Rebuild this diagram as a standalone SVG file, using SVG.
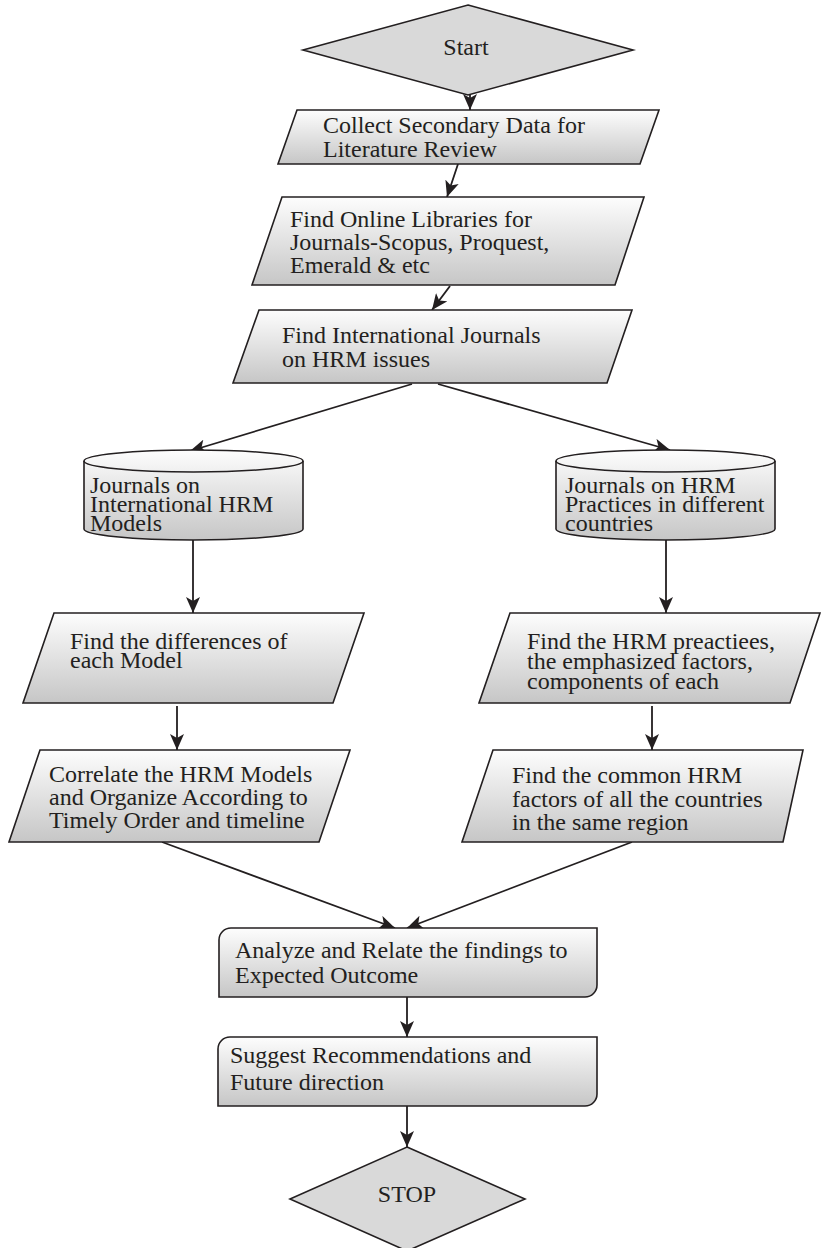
<svg xmlns="http://www.w3.org/2000/svg" width="821" height="1248" viewBox="0 0 821 1248">
<style>
.s{stroke:#231f20;stroke-width:1.6;fill:url(#g)}
.d{stroke:#231f20;stroke-width:1.6;fill:#d9d9d9}
.t{font-family:"Liberation Serif","Times New Roman",serif;font-size:24px;fill:#231f20}
.c{stroke:#231f20;stroke-width:1.8;fill:none;marker-end:url(#ah)}
</style>
<defs>
<linearGradient id="g" x1="0" y1="0" x2="0" y2="1">
<stop offset="0" stop-color="#fdfdfd"/>
<stop offset="1" stop-color="#c6c6c6"/>
</linearGradient>
<marker id="ah" markerUnits="userSpaceOnUse" markerWidth="18" markerHeight="14" refX="16" refY="7" orient="auto">
<path d="M0,0 L16,7 L0,14 L4,7 Z" fill="#231f20"/>
</marker>
</defs>
<g id="connectors">
<line class="c" x1="470" y1="95" x2="470" y2="110"/>
<line class="c" x1="458" y1="164" x2="447" y2="197"/>
<line class="c" x1="450" y1="286" x2="432" y2="310"/>
<line class="c" x1="412" y1="384" x2="190" y2="451"/>
<line class="c" x1="438" y1="384" x2="670" y2="450"/>
<line class="c" x1="193" y1="540" x2="193" y2="613"/>
<line class="c" x1="666" y1="540" x2="666" y2="613"/>
<line class="c" x1="177" y1="706" x2="177" y2="750"/>
<line class="c" x1="652" y1="706" x2="652" y2="750"/>
<line class="c" x1="162" y1="842" x2="395" y2="928"/>
<line class="c" x1="632" y1="842" x2="407" y2="928"/>
<line class="c" x1="407" y1="997" x2="407" y2="1037"/>
<line class="c" x1="407" y1="1106" x2="407" y2="1147"/>
</g>
<g id="start">
<polygon class="d" points="468,5 633,50 468,95 303,50"/>
<text class="t" x="466" y="55" text-anchor="middle">Start</text>
</g>
<g id="collect">
<polygon class="s" points="297,110 659,110 640,164 278,164"/>
<text class="t" x="323" y="133">Collect Secondary Data for</text>
<text class="t" x="323" y="157">Literature Review</text>
</g>
<g id="online">
<polygon class="s" points="282,197 644,197 615,285 252,285"/>
<text class="t" x="290" y="227">Find Online Libraries for</text>
<text class="t" x="290" y="250">Journals-Scopus, Proquest,</text>
<text class="t" x="290" y="273">Emerald &amp; etc</text>
</g>
<g id="international">
<polygon class="s" points="259,310 632,310 607,383 233,383"/>
<text class="t" x="282" y="343">Find International Journals</text>
<text class="t" x="282" y="367">on HRM issues</text>
</g>
<g id="cyl-left">
<path class="s" d="M84,461 A109.5,11 0 0 1 303,461 L303,529 A109.5,11 0 0 1 84,529 Z"/>
<path d="M84,461 A109.5,11 0 0 0 303,461" fill="none" stroke="#231f20" stroke-width="1.6"/>
<text class="t" x="90" y="493">Journals on</text>
<text class="t" x="90" y="512">International HRM</text>
<text class="t" x="90" y="531">Models</text>
</g>
<g id="cyl-right">
<path class="s" d="M556,461 A109.5,11 0 0 1 775,461 L775,529 A109.5,11 0 0 1 556,529 Z"/>
<path d="M556,461 A109.5,11 0 0 0 775,461" fill="none" stroke="#231f20" stroke-width="1.6"/>
<text class="t" x="565" y="493">Journals on HRM</text>
<text class="t" x="565" y="512">Practices in different</text>
<text class="t" x="565" y="531">countries</text>
</g>
<g id="differences">
<polygon class="s" points="54,613 364,613 333,703 23,703"/>
<text class="t" x="70" y="649">Find the differences of</text>
<text class="t" x="70" y="668">each Model</text>
</g>
<g id="practices">
<polygon class="s" points="510,613 820,613 790,703 479,703"/>
<text class="t" x="527" y="649">Find the HRM preactiees,</text>
<text class="t" x="527" y="669">the emphasized factors,</text>
<text class="t" x="527" y="689">components of each</text>
</g>
<g id="correlate">
<polygon class="s" points="40,750 350,750 319,842 9,842"/>
<text class="t" x="49" y="782">Correlate the HRM Models</text>
<text class="t" x="49" y="805">and Organize According to</text>
<text class="t" x="49" y="828">Timely Order and timeline</text>
</g>
<g id="common">
<polygon class="s" points="493,750 803,750 783,842 462,842"/>
<text class="t" x="512" y="783">Find the common HRM</text>
<text class="t" x="512" y="807">factors of all the countries</text>
<text class="t" x="512" y="830">in the same region</text>
</g>
<g id="analyze">
<path class="s" d="M219,940 A12,12 0 0 1 231,928 L597,928 L597,985 A12,12 0 0 1 585,997 L219,997 Z"/>
<text class="t" x="235" y="958">Analyze and Relate the findings to</text>
<text class="t" x="235" y="983">Expected Outcome</text>
</g>
<g id="suggest">
<path class="s" d="M218,1049 A12,12 0 0 1 230,1037 L597,1037 L597,1094 A12,12 0 0 1 585,1106 L218,1106 Z"/>
<text class="t" x="230" y="1063">Suggest Recommendations and</text>
<text class="t" x="230" y="1090">Future direction</text>
</g>
<g id="stop">
<polygon class="d" points="407,1147 525,1199 407,1251 290,1199"/>
<text class="t" x="407" y="1202" text-anchor="middle">STOP</text>
</g>
</svg>
